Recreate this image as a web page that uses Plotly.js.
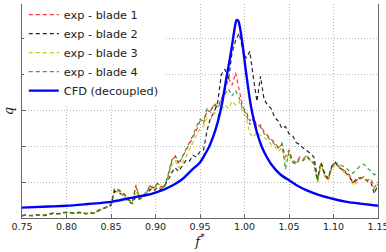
<!DOCTYPE html>
<html><head><meta charset="utf-8">
<script src="https://cdn.plot.ly/plotly-3.0.1.min.js"></script>
<style>html,body{margin:0;padding:0;background:#fff}#chart{width:386px;height:252px}</style>
</head><body><div id="chart"></div>
<script>
const freq = [0.750,0.754,0.758,0.762,0.766,0.770,0.774,0.778,0.782,0.786,0.790,0.794,0.798,0.802,0.806,0.810,0.814,0.818,0.822,0.826,0.830,0.834,0.838,0.842,0.846,0.850,0.854,0.858,0.862,0.866,0.870,0.874,0.878,0.882,0.886,0.890,0.894,0.898,0.902,0.906,0.910,0.914,0.918,0.922,0.926,0.930,0.934,0.938,0.942,0.946,0.950,0.954,0.958,0.962,0.966,0.970,0.974,0.978,0.982,0.986,0.990,0.994,0.998,1.002,1.006,1.010,1.014,1.018,1.022,1.026,1.030,1.034,1.038,1.042,1.046,1.050,1.054,1.058,1.062,1.066,1.070,1.074,1.078,1.082,1.086,1.090,1.094,1.098,1.102,1.106,1.110,1.114,1.118,1.122,1.126,1.130,1.134,1.138,1.142,1.146,1.150];
const blade1 = [0.07,0.08,0.06,0.07,0.09,0.07,0.06,0.09,0.12,0.14,0.11,0.13,0.16,0.14,0.15,0.13,0.16,0.14,0.11,0.15,0.12,0.18,0.24,0.28,0.30,0.36,0.80,0.78,0.70,0.62,0.50,0.45,0.88,0.58,0.62,0.72,0.90,0.82,0.95,0.88,0.85,1.15,1.55,1.72,1.50,1.68,1.85,2.05,2.25,2.45,2.70,2.65,3.00,2.95,3.20,3.10,3.35,3.55,3.90,3.70,4.05,3.60,3.10,2.95,2.70,2.85,2.55,2.60,2.40,2.30,2.20,2.10,1.95,2.05,1.70,1.90,1.60,1.55,1.70,1.65,1.75,1.62,1.55,1.00,1.55,1.20,1.05,1.40,1.55,1.45,1.35,1.30,1.20,0.95,1.05,1.10,1.15,1.05,1.10,0.85,1.00];
const blade2 = [0.06,0.08,0.07,0.06,0.08,0.08,0.06,0.08,0.11,0.13,0.12,0.12,0.15,0.15,0.14,0.12,0.15,0.15,0.12,0.14,0.13,0.17,0.22,0.27,0.31,0.34,0.75,0.72,0.66,0.55,0.45,0.40,0.60,0.52,0.58,0.65,0.80,0.75,0.85,0.80,0.90,1.05,1.25,1.40,1.30,1.45,1.60,1.58,1.75,1.70,1.85,1.90,2.45,2.80,2.95,3.25,4.00,4.15,3.85,4.60,4.95,5.15,4.70,4.45,4.65,3.90,3.25,3.95,3.30,3.15,3.05,2.80,2.70,2.50,2.55,2.35,2.30,2.10,2.05,1.95,1.88,1.80,1.70,1.10,1.55,1.25,1.10,1.45,1.55,1.40,1.35,1.25,1.15,0.98,1.10,1.12,1.10,1.02,1.00,0.68,0.95];
const blade3 = [0.07,0.07,0.06,0.08,0.08,0.07,0.07,0.09,0.11,0.13,0.11,0.14,0.15,0.14,0.14,0.14,0.15,0.13,0.12,0.14,0.13,0.17,0.23,0.27,0.31,0.35,0.70,0.74,0.66,0.58,0.47,0.42,0.75,0.55,0.60,0.68,0.85,0.78,0.90,0.84,0.82,1.10,1.45,1.60,1.40,1.55,1.70,1.90,2.10,2.30,2.50,2.55,2.80,2.75,2.95,2.85,3.00,3.15,3.05,3.25,3.15,3.25,2.95,2.80,2.35,2.25,2.40,2.30,2.25,2.15,2.05,2.00,1.85,1.95,1.60,1.80,1.55,1.50,1.65,1.60,1.70,1.58,1.50,1.00,1.50,1.15,1.05,1.35,1.50,1.40,1.30,1.25,1.15,0.90,1.00,1.08,1.12,1.00,1.05,0.80,0.95];
const blade4 = [0.08,0.07,0.07,0.08,0.07,0.08,0.07,0.08,0.13,0.14,0.12,0.13,0.16,0.15,0.15,0.12,0.16,0.15,0.12,0.15,0.13,0.19,0.25,0.28,0.32,0.38,0.82,0.80,0.74,0.65,0.50,0.44,0.92,0.57,0.62,0.74,0.92,0.84,0.97,0.90,0.88,1.20,1.60,1.75,1.55,1.70,1.90,2.10,2.30,2.55,2.75,2.70,3.05,3.00,3.15,3.05,3.30,3.45,3.60,3.40,3.55,3.35,3.05,2.90,2.60,2.75,2.50,2.55,2.35,2.25,2.15,2.05,1.95,2.10,1.36,1.85,1.55,1.50,1.65,1.60,1.72,1.60,1.52,1.05,1.50,1.22,1.10,1.42,1.55,1.50,1.45,1.40,1.30,1.25,1.35,1.45,1.50,1.40,1.32,1.20,1.28];
const cfdFreq = [0.75,0.78,0.80,0.82,0.85,0.87,0.89,0.90,0.91,0.92,0.93,0.94,0.95,0.955,0.96,0.965,0.97,0.975,0.98,0.984,0.987,0.989,0.991,0.993,0.995,0.998,1.001,1.004,1.007,1.010,1.015,1.02,1.025,1.03,1.04,1.05,1.06,1.07,1.085,1.10,1.115,1.13,1.15];
const cfdQ = [0.29,0.32,0.34,0.38,0.45,0.55,0.64,0.71,0.80,0.92,1.08,1.32,1.55,1.75,1.97,2.28,2.68,3.22,3.95,4.50,4.98,5.30,5.52,5.50,5.30,4.80,4.20,3.65,3.15,2.78,2.30,1.95,1.70,1.50,1.22,1.05,0.89,0.77,0.63,0.53,0.45,0.40,0.34];
const seriesNames = ['exp - blade 1','exp - blade 2','exp - blade 3','exp - blade 4','CFD (decoupled)'];
const xTicks = [0.75,0.80,0.85,0.90,0.95,1.00,1.05,1.10,1.15];

const expColors = ['rgba(255,0,0,0.8)','rgba(0,0,0,0.85)','rgba(191,191,0,0.85)','rgba(0,128,0,0.75)'];
const expData = [blade1, blade2, blade3, blade4];
const traces = expData.map((q, i) => ({
  x: freq, y: q, type: 'scatter', mode: 'lines', name: seriesNames[i],
  line: {color: expColors[i], width: 1.2, dash: '4px,3px'}
}));
traces.push({x: cfdFreq, y: cfdQ, type: 'scatter', mode: 'lines', name: seriesNames[4],
  line: {color: '#0000ff', width: 2.4, shape: 'spline', smoothing: 0.6}});

const layout = {
  width: 386, height: 252,
  margin: {l: 22, r: 8, t: 0, b: 34, pad: 0},
  paper_bgcolor: '#fff', plot_bgcolor: '#fff',
  font: {family: 'DejaVu Sans', color: '#222'},
  showlegend: true,
  legend: {x: 0.005, y: 1.018, xanchor: 'left', yanchor: 'top', bgcolor: '#fff',
    borderwidth: 0, font: {size: 11.3, family: 'DejaVu Sans', color: '#222'}, itemwidth: 30},
  xaxis: {range: [0.75, 1.15], tickvals: xTicks, ticktext: xTicks.map(v => v.toFixed(2)),
    ticklabeloverflow: 'allow',
    showgrid: true, gridcolor: '#b8b8b8', griddash: '1px,2px', gridwidth: 1,
    showline: true, linecolor: '#666', linewidth: 1, mirror: false,
    ticks: 'inside', ticklen: 4, tickcolor: '#666', zeroline: false,
    tickfont: {size: 9.5, family: 'DejaVu Sans', color: '#222'},
    title: {text: '<i>f</i><sup>*</sup>', standoff: 4, font: {family: 'DejaVu Serif', size: 13, color: '#222'}}},
  yaxis: {range: [0, 5.965], dtick: 1, tick0: 0, showticklabels: false,
    showgrid: true, gridcolor: '#b8b8b8', griddash: '1px,2px', gridwidth: 1,
    showline: true, linecolor: '#666', linewidth: 1, mirror: true,
    ticks: 'inside', ticklen: 4, tickcolor: '#666', zeroline: false,
    title: {text: '<i>q</i>', standoff: 4, font: {family: 'DejaVu Serif', size: 13, color: '#222'}}}
};
Plotly.newPlot('chart', traces, layout, {displayModeBar: false, staticPlot: true});
</script></body></html>
